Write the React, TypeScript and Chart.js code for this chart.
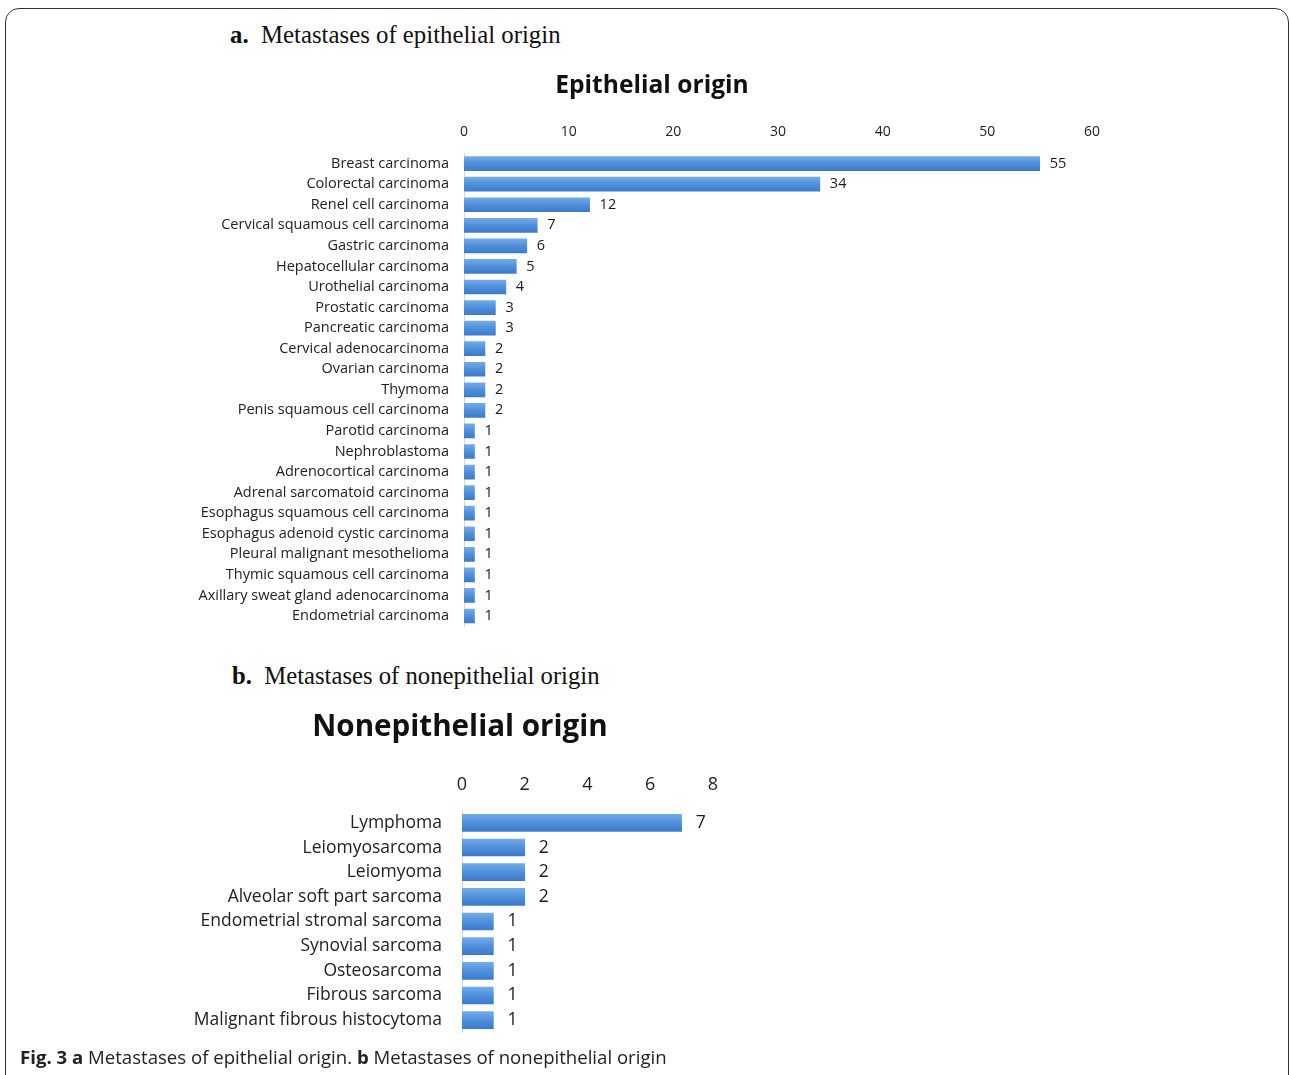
import React, { useEffect, useRef } from "react";
import { Chart, registerables } from "chart.js";

Chart.register(...registerables);

const epiCategories = [
  "Breast carcinoma",
  "Colorectal carcinoma",
  "Renel cell carcinoma",
  "Cervical squamous cell carcinoma",
  "Gastric carcinoma",
  "Hepatocellular carcinoma",
  "Urothelial carcinoma",
  "Prostatic carcinoma",
  "Pancreatic carcinoma",
  "Cervical adenocarcinoma",
  "Ovarian carcinoma",
  "Thymoma",
  "Penis squamous cell carcinoma",
  "Parotid carcinoma",
  "Nephroblastoma",
  "Adrenocortical carcinoma",
  "Adrenal sarcomatoid carcinoma",
  "Esophagus squamous cell carcinoma",
  "Esophagus adenoid cystic carcinoma",
  "Pleural malignant mesothelioma",
  "Thymic squamous cell carcinoma",
  "Axillary sweat gland adenocarcinoma",
  "Endometrial carcinoma",
];
const epiValues = [55, 34, 12, 7, 6, 5, 4, 3, 3, 2, 2, 2, 2, 1, 1, 1, 1, 1, 1, 1, 1, 1, 1];
const epiTicks = [0, 10, 20, 30, 40, 50, 60];

const nonCategories = [
  "Lymphoma",
  "Leiomyosarcoma",
  "Leiomyoma",
  "Alveolar soft part sarcoma",
  "Endometrial stromal sarcoma",
  "Synovial sarcoma",
  "Osteosarcoma",
  "Fibrous sarcoma",
  "Malignant fibrous histocytoma",
];
const nonValues = [7, 2, 2, 2, 1, 1, 1, 1, 1];
const nonTicks = [0, 2, 4, 6, 8];

const FONT = "'Open Sans', sans-serif";
const BAR = "#4f8fd9";

function makeLabelPlugin(size: number, gap: number) {
  return {
    id: "valueLabels",
    afterDatasetsDraw(chart: any) {
      const ctx = chart.ctx;
      ctx.save();
      ctx.font = `${size}px ${FONT}`;
      ctx.fillStyle = "#1a1a1a";
      ctx.textAlign = "left";
      ctx.textBaseline = "middle";
      chart.data.datasets.forEach((ds: any, di: number) => {
        const meta = chart.getDatasetMeta(di);
        meta.data.forEach((el: any, i: number) => {
          ctx.fillText(String(ds.data[i]), el.x + gap, el.y);
        });
      });
      ctx.restore();
    },
  };
}

interface Cfg {
  categories: string[];
  values: number[];
  ticks: number[];
  title: string;
  titleSize: number;
  titlePadTop: number;
  tickSize: number;
  labelSize: number;
  xTickPad: number;
  yTickPad: number;
  axisHeight: number;
  axisWidth: number;
  rightWidth: number;
  barThickness: number;
  labelGap: number;
}

function BarChart({ cfg, style }: { cfg: Cfg; style: React.CSSProperties }) {
  const ref = useRef<HTMLCanvasElement>(null);
  useEffect(() => {
    if (!ref.current) return;
    const max = cfg.ticks[cfg.ticks.length - 1];
    const step = cfg.ticks[1] - cfg.ticks[0];
    const t = cfg.barThickness;
    const chart = new Chart(ref.current, {
      type: "bar",
      data: {
        labels: cfg.categories,
        datasets: [
          {
            data: cfg.values,
            yAxisID: "y",
            backgroundColor: (c: any) => {
              const ys = c.chart.scales && c.chart.scales.y;
              if (!ys || c.dataIndex === undefined) return BAR;
              const yc = ys.getPixelForValue(c.dataIndex);
              if (!isFinite(yc)) return BAR;
              const g = c.chart.ctx.createLinearGradient(0, yc - t / 2, 0, yc + t / 2);
              g.addColorStop(0, "#72abe8");
              g.addColorStop(0.5, "#4f8fdb");
              g.addColorStop(1, "#3c7bcb");
              return g;
            },
            borderWidth: 0,
            barThickness: t,
          },
        ],
      },
      options: {
        indexAxis: "y",
        animation: false,
        responsive: false,
        maintainAspectRatio: false,
        layout: { padding: 0 },
        plugins: {
          legend: { display: false },
          tooltip: { enabled: false },
          title: {
            display: true,
            text: cfg.title,
            color: "#111",
            font: { family: FONT, size: cfg.titleSize, weight: "bold", lineHeight: 1.2 },
            padding: { top: cfg.titlePadTop, bottom: 0 },
          },
        },
        scales: {
          x: {
            position: "top",
            min: 0,
            max,
            grid: { display: false, drawTicks: false },
            border: { display: false },
            ticks: {
              stepSize: step,
              padding: cfg.xTickPad,
              color: "#222",
              font: { family: FONT, size: cfg.tickSize, lineHeight: 1.2 },
            },
            afterFit: (s: any) => {
              s.height = cfg.axisHeight;
            },
          },
          y: {
            position: "left",
            grid: { display: false, drawTicks: false },
            border: { display: true, color: "#d9d9d9", width: 1 },
            ticks: {
              padding: cfg.yTickPad,
              color: "#222",
              font: { family: FONT, size: cfg.labelSize, lineHeight: 1.2 },
              autoSkip: false,
            },
            afterFit: (s: any) => {
              s.width = cfg.axisWidth;
            },
          },
          yRight: {
            type: "linear",
            position: "right",
            display: true,
            grid: { display: false, drawTicks: false },
            border: { display: false },
            ticks: { display: false },
            afterFit: (s: any) => {
              s.width = cfg.rightWidth;
            },
          },
        },
      },
      plugins: [makeLabelPlugin(cfg.labelSize, cfg.labelGap)],
    } as any);
    return () => chart.destroy();
  }, []);
  const w = style.width as number;
  const h = style.height as number;
  return <canvas ref={ref} width={w} height={h} style={{ position: "absolute", ...style }} />;
}

const cfgA: Cfg = {
  categories: epiCategories,
  values: epiValues,
  ticks: epiTicks,
  title: "Epithelial origin",
  titleSize: 24.6,
  titlePadTop: 11.2,
  tickSize: 14,
  labelSize: 14.5,
  xTickPad: 12.5,
  yTickPad: 15,
  axisHeight: 52.6,
  axisWidth: 450,
  rightWidth: 198,
  barThickness: 14,
  labelGap: 10,
};

const cfgB: Cfg = {
  categories: nonCategories,
  values: nonValues,
  ticks: nonTicks,
  title: "Nonepithelial origin",
  titleSize: 29.6,
  titlePadTop: 10.2,
  tickSize: 18,
  labelSize: 17.5,
  xTickPad: 15.2,
  yTickPad: 20,
  axisHeight: 64.8,
  axisWidth: 462,
  rightWidth: 207,
  barThickness: 17,
  labelGap: 14,
};

export default function App() {
  const serif = "'Liberation Serif', 'Times New Roman', serif";
  return (
    <div
      style={{
        position: "absolute",
        left: 0,
        top: 0,
        width: 1290,
        height: 1075,
        overflow: "hidden",
        background: "#fff",
      }}
    >
      <div
        style={{
          position: "absolute",
          left: 5,
          top: 8,
          width: 1282,
          height: 1100,
          border: "1.5px solid #333",
          borderRadius: 14,
        }}
      />
      <div
        style={{
          position: "absolute",
          left: 230,
          top: 20,
          fontFamily: serif,
          fontSize: 24.8,
          color: "#111",
          whiteSpace: "nowrap",
          lineHeight: "30px",
        }}
      >
        <b>a.</b>&nbsp; Metastases of epithelial origin
      </div>
      <div
        style={{
          position: "absolute",
          left: 232,
          top: 661,
          fontFamily: serif,
          fontSize: 24.7,
          color: "#111",
          whiteSpace: "nowrap",
          lineHeight: "30px",
        }}
      >
        <b>b.</b>&nbsp; Metastases of nonepithelial origin
      </div>
      <BarChart cfg={cfgA} style={{ left: 14, top: 60, width: 1276, height: 590 }} />
      <BarChart cfg={cfgB} style={{ left: 0, top: 700, width: 920, height: 363 }} />
      <div
        style={{
          position: "absolute",
          left: 20,
          top: 1045,
          fontFamily: FONT,
          fontSize: 18.6,
          color: "#222",
          whiteSpace: "nowrap",
          lineHeight: "24px",
        }}
      >
        <b>Fig. 3 a</b> Metastases of epithelial origin. <b>b</b> Metastases of nonepithelial origin
      </div>
    </div>
  );
}
